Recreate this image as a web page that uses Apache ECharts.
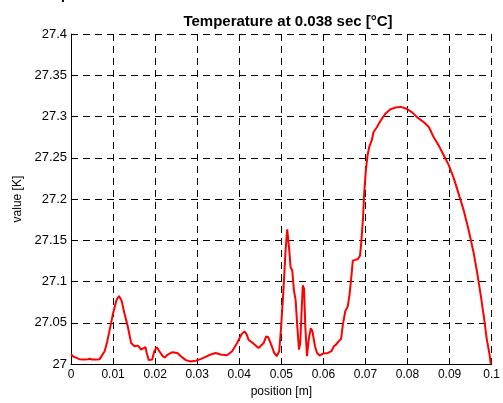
<!DOCTYPE html>
<html>
<head>
<meta charset="utf-8">
<script src="https://cdn.jsdelivr.net/npm/echarts@6/dist/echarts.min.js"></script>
<style>
html,body{margin:0;padding:0;background:#fff;}
#chart{width:503px;height:403px;}
</style>
</head>
<body>
<div id="chart"></div>
<script>
var titleText = 'Temperature at 0.038 sec [°C]';
var xAxisName = 'position [m]';
var yAxisName = 'value [K]';
var xTickLabels = ['0','0.01','0.02','0.03','0.04','0.05','0.06','0.07','0.08','0.09','0.1'];
var yTickLabels = ['27','27.05','27.1','27.15','27.2','27.25','27.3','27.35','27.4'];

var positions = [
0.0000,0.0006,0.0013,0.0020,0.0030,0.0040,0.0045,0.0050,0.0060,0.0068,
0.0072,0.0080,0.0086,0.0092,0.0100,0.0108,0.0114,0.0120,0.0127,0.0135,
0.0143,0.0151,0.0159,0.0167,0.0177,0.0180,0.0185,0.0193,0.0198,0.0204,
0.0210,0.0218,0.0223,0.0230,0.0241,0.0253,0.0261,0.0273,0.0285,0.0296,
0.0308,0.0320,0.0332,0.0344,0.0355,0.0371,0.0383,0.0395,0.0406,0.0413,
0.0418,0.0422,0.0434,0.0446,0.0458,0.0464,0.0469,0.0477,0.0483,0.0489,
0.0495,0.0499,0.0505,0.0510,0.0514,0.0517,0.0519,0.0522,0.0526,0.0530,
0.0534,0.0538,0.0542,0.0545,0.0548,0.0551,0.0554,0.0557,0.0561,0.0565,
0.0570,0.0574,0.0580,0.0585,0.0591,0.0599,0.0611,0.0619,0.0625,0.0630,
0.0636,0.0642,0.0646,0.0652,0.0658,0.0662,0.0666,0.0670,0.0674,0.0682,
0.0687,0.0690,0.0694,0.0697,0.0701,0.0705,0.0709,0.0715,0.0719,0.0727,
0.0737,0.0748,0.0760,0.0772,0.0784,0.0796,0.0811,0.0823,0.0839,0.0851,
0.0862,0.0874,0.0886,0.0898,0.0910,0.0921,0.0933,0.0945,0.0957,0.0966,
0.0974,0.0982,0.0988,0.0995,0.0998
];
var values = [
27.0120,27.0090,27.0075,27.0060,27.0056,27.0058,27.0065,27.0056,27.0056,27.0060,
27.0075,27.0156,27.0270,27.0415,27.0615,27.0775,27.0826,27.0775,27.0615,27.0455,
27.0255,27.0216,27.0224,27.0176,27.0207,27.0135,27.0048,27.0056,27.0156,27.0204,
27.0156,27.0096,27.0080,27.0116,27.0144,27.0135,27.0096,27.0048,27.0032,27.0040,
27.0060,27.0088,27.0116,27.0135,27.0116,27.0108,27.0156,27.0255,27.0368,27.0395,
27.0355,27.0296,27.0248,27.0195,27.0255,27.0335,27.0325,27.0220,27.0135,27.0096,
27.0156,27.0415,27.0894,27.1373,27.1632,27.1613,27.1373,27.1174,27.1134,27.0894,
27.0775,27.0455,27.0176,27.0255,27.0615,27.0954,27.0914,27.0455,27.0096,27.0296,
27.0435,27.0395,27.0216,27.0135,27.0104,27.0128,27.0135,27.0156,27.0216,27.0236,
27.0275,27.0305,27.0470,27.0640,27.0700,27.0835,27.1034,27.1254,27.1273,27.1273,
27.1313,27.1473,27.1752,27.2072,27.2351,27.2531,27.2631,27.2710,27.2810,27.2870,
27.2958,27.3038,27.3090,27.3110,27.3117,27.3098,27.3050,27.2990,27.2930,27.2870,
27.2751,27.2650,27.2531,27.2411,27.2251,27.2072,27.1872,27.1632,27.1353,27.1094,
27.0835,27.0555,27.0315,27.0116,27.0000
];

var data = positions.map(function (p, i) { return [p, values[i]]; });
var FONT = '"Liberation Sans", Arial, Helvetica, sans-serif';
var dash = [7, 5];

var chart = echarts.init(document.getElementById('chart'), null, {renderer: 'canvas'});
chart.setOption({
  animation: false,
  backgroundColor: '#ffffff',
  title: {
    text: titleText,
    left: 283,
    textAlign: 'center',
    top: 9,
    textStyle: {fontFamily: FONT, fontSize: 15, fontWeight: 'bold', color: '#000'}
  },
  graphic: [{
    type: 'text', left: 61, top: -12,
    style: {text: 'p', font: 'bold 14px ' + FONT, fill: '#000'}
  }],
  grid: {left: 71, right: 8, top: 34, bottom: 35, containLabel: false},
  xAxis: {
    type: 'value', min: 0, max: 0.1, interval: 0.01,
    name: xAxisName, nameLocation: 'middle', nameGap: 20,
    nameTextStyle: {fontFamily: FONT, fontSize: 12, color: '#000'},
    axisLine: {show: true, onZero: false, lineStyle: {color: '#000', width: 1}},
    axisTick: {show: true, inside: true, length: 4, lineStyle: {color: '#000'}},
    axisLabel: {
      margin: 5, fontFamily: FONT, fontSize: 12, color: '#000',
      formatter: function (v) { return xTickLabels[Math.round(v / 0.01)]; }
    },
    splitLine: {show: true, lineStyle: {color: '#000', type: dash, width: 1}}
  },
  yAxis: {
    type: 'value', min: 27, max: 27.4, interval: 0.05,
    name: yAxisName, nameLocation: 'middle', nameGap: 40,
    nameTextStyle: {fontFamily: FONT, fontSize: 12, color: '#000'},
    axisLine: {show: true, onZero: false, lineStyle: {color: '#000', width: 1}},
    axisTick: {show: true, inside: true, length: 4, lineStyle: {color: '#000'}},
    axisLabel: {
      margin: 4, fontFamily: FONT, fontSize: 13, color: '#000',
      formatter: function (v) { return yTickLabels[Math.round((v - 27) / 0.05)]; }
    },
    splitLine: {show: true, lineStyle: {color: '#000', type: dash, width: 1}}
  },
  series: [{
    type: 'line',
    data: data,
    showSymbol: false,
    smooth: false,
    lineStyle: {color: '#ff0000', width: 2},
    clip: true
  }]
});
</script>
</body>
</html>
